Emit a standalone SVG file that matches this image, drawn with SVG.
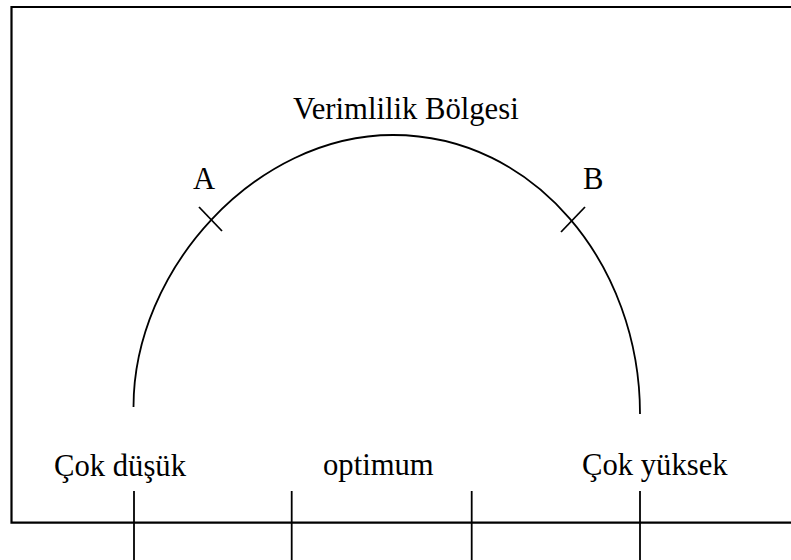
<svg xmlns="http://www.w3.org/2000/svg" width="791" height="560" viewBox="0 0 791 560">
  <style>
    .t { font-family: "Liberation Serif", "Times New Roman", serif; font-size: 30.67px; fill: #000; }
    .frame { fill: none; stroke: #000; stroke-width: 2.2; }
    .ln { fill: none; stroke: #000; stroke-width: 1.8; }
  </style>
  <rect width="791" height="560" fill="#fff"/>
  <g id="frame">
    <path class="frame" d="M 791 7 L 11.5 7 L 11.5 522.7 L 791 522.7"/>
  </g>
  <g id="arc">
    <path class="ln" d="M 133.5 407 C 133.5 270 255 135 393 135 C 535 135 640 265 640 414"/>
  </g>
  <g id="title">
    <text class="t" x="293" y="119">Verimlilik Bölgesi</text>
  </g>
  <g id="pointA">
    <text class="t" x="193" y="189">A</text>
    <line class="ln" x1="199" y1="207" x2="222" y2="231"/>
  </g>
  <g id="pointB">
    <text class="t" x="583" y="189">B</text>
    <line class="ln" x1="585" y1="207" x2="561" y2="232"/>
  </g>
  <g id="low">
    <text class="t" x="54" y="476">Çok düşük</text>
  </g>
  <g id="optimum">
    <text class="t" x="323" y="475">optimum</text>
  </g>
  <g id="high">
    <text class="t" x="582" y="475">Çok yüksek</text>
  </g>
  <g id="connectors">
    <line class="ln" x1="134" y1="491" x2="134" y2="560"/>
    <line class="ln" x1="291.7" y1="491" x2="291.7" y2="560"/>
    <line class="ln" x1="471.7" y1="491" x2="471.7" y2="560"/>
    <line class="ln" x1="640" y1="491" x2="640" y2="560"/>
  </g>
</svg>
